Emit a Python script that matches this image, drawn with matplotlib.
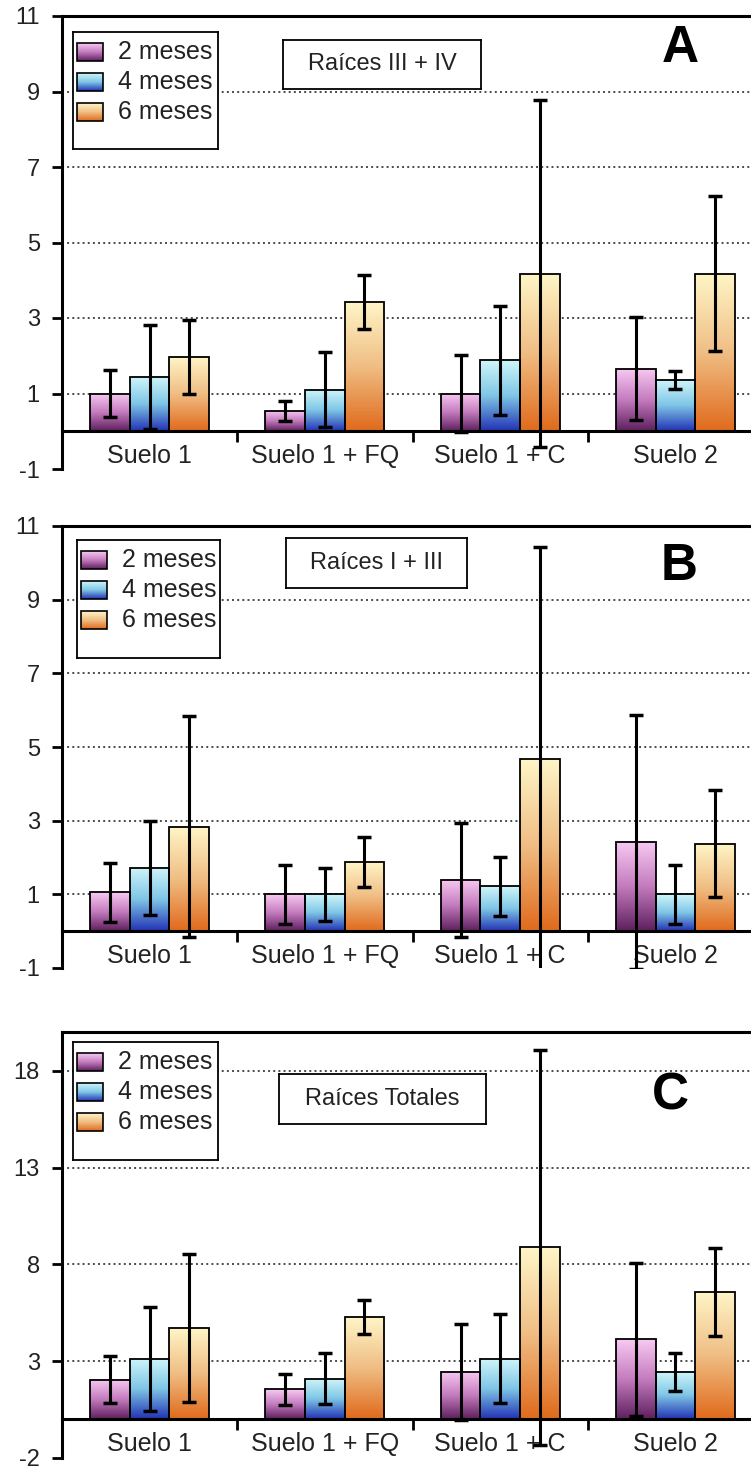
import numpy as np
import matplotlib.pyplot as plt
from matplotlib.colors import LinearSegmentedColormap

plt.rcParams['font.family'] = ['Liberation Sans', 'DejaVu Sans']
plt.rcParams['axes.unicode_minus'] = False

# categorias y series
categorias = ['Suelo 1', 'Suelo 1 + FQ', 'Suelo 1 + C', 'Suelo 2']
meses = ['2 meses', '4 meses', '6 meses']

# Panel A: Raices III + IV
a_2m = [1.0, 0.54, 1.0, 1.66]
a_2m_err = [0.63, 0.27, 1.03, 1.37]
a_4m = [1.44, 1.1, 1.88, 1.36]
a_4m_err = [1.38, 1.0, 1.45, 0.24]
a_6m = [1.97, 3.43, 4.17, 4.17]
a_6m_err = [0.99, 0.72, 4.6, 2.05]

# Panel B: Raices I + III
b_2m = [1.05, 1.0, 1.4, 2.42]
b_2m_err = [0.8, 0.8, 1.55, 3.45]
b_4m = [1.72, 1.0, 1.22, 1.0]
b_4m_err = [1.27, 0.72, 0.8, 0.8]
b_6m = [2.83, 1.88, 4.68, 2.37]
b_6m_err = [3.0, 0.67, 5.75, 1.45]

# Panel C: Raices totales
c_2m = [2.05, 1.54, 2.44, 4.12]
c_2m_err = [1.2, 0.8, 2.48, 3.97]
c_4m = [3.12, 2.1, 3.12, 2.44]
c_4m_err = [2.7, 1.3, 2.3, 1.0]
c_6m = [4.71, 5.29, 8.88, 6.57]
c_6m_err = [3.8, 0.87, 10.2, 2.25]

# degradados (abajo -> arriba)
cmaps = [
    LinearSegmentedColormap.from_list('m2', ['#5E1F5E', '#C47CBE', '#F8CAF2']),
    LinearSegmentedColormap.from_list('m4', ['#2232B4', '#7FC6E6', '#D0F6FA']),
    LinearSegmentedColormap.from_list('m6', ['#E06A1C', '#F0BE84', '#FFF6C8']),
]
grad = np.linspace(0, 1, 256).reshape(-1, 1)

W, H = 751, 1471


def px_rect(l, t, r, b):
    return [l / W, 1 - b / H, (r - l) / W, (b - t) / H]


paneles = [
    dict(series=(a_2m, a_4m, a_6m), errs=(a_2m_err, a_4m_err, a_6m_err),
         ylim=(-1, 11), yticks=list(range(-1, 12, 2)), box=(62, 16, 763, 469),
         titulo='Raíces III + IV', tbox=(283, 40, 481, 89), letra='A', lpos=(680, 48),
         leg=(73, 32, 218, 149)),
    dict(series=(b_2m, b_4m, b_6m), errs=(b_2m_err, b_4m_err, b_6m_err),
         ylim=(-1, 11), yticks=list(range(-1, 12, 2)), box=(62, 526, 763, 968),
         titulo='Raíces I + III', tbox=(286, 538, 467, 588), letra='B', lpos=(679, 567),
         leg=(77, 540, 220, 658)),
    dict(series=(c_2m, c_4m, c_6m), errs=(c_2m_err, c_4m_err, c_6m_err),
         ylim=(-2, 20), yticks=[-2, 3, 8, 13, 18], box=(62, 1032, 763, 1458),
         titulo='Raíces Totales', tbox=(279, 1074, 486, 1124), letra='C', lpos=(670, 1096),
         leg=(73, 1042, 218, 1160)),
]

fig = plt.figure(figsize=(7.51, 14.71), dpi=100)
x = np.arange(len(categorias))
ancho = 0.226

for p in paneles:
    ax = fig.add_axes(px_rect(*p['box']))
    for i, (vals, err) in enumerate(zip(p['series'], p['errs'])):
        pos = x + (i - 1) * ancho
        bars = ax.bar(pos, vals, ancho, fill=False, edgecolor='black', linewidth=1.3, zorder=3)
        for b in bars:
            ax.imshow(grad, cmap=cmaps[i], origin='lower', aspect='auto', interpolation='bilinear',
                      extent=[b.get_x(), b.get_x() + b.get_width(), 0, b.get_height()], zorder=2)
        ax.errorbar(pos, vals, yerr=err, fmt='none', ecolor='black', elinewidth=2.2,
                    capsize=5, capthick=2.5, zorder=4)

    ymin, ymax = p['ylim']
    for t in p['yticks']:
        if 0 < t < ymax:
            ax.axhline(t, color='#4a4a4a', linestyle=':', linewidth=1.4, zorder=1)

    ax.set_xlim(-0.5, 3.5)
    ax.set_ylim(ymin, ymax)
    ax.set_yticks(p['yticks'])
    ax.set_xticks(x)
    ax.set_xticklabels(categorias)
    ax.set_xticks([0.5, 1.5, 2.5], minor=True)
    ax.tick_params(axis='x', which='major', length=0, pad=9, labelsize=18, labelcolor='#222222')
    ax.tick_params(axis='x', which='minor', length=8, width=2, direction='out')
    ax.tick_params(axis='y', length=7, width=2, pad=9, labelsize=17, labelcolor='#222222')
    ax.spines['bottom'].set_position(('data', 0))
    for s in ['left', 'bottom', 'top', 'right']:
        ax.spines[s].set_linewidth(2.2)

    # leyenda
    l, t, r, b = p['leg']
    lax = fig.add_axes(px_rect(l, t, r, b))
    lax.set_xticks([])
    lax.set_yticks([])
    for s in lax.spines.values():
        s.set_linewidth(1.3)
    for i, nombre in enumerate(meses):
        yc = 20 + 30 * i
        lax.imshow(grad, cmap=cmaps[i], origin='lower', aspect='auto', interpolation='bilinear',
                   extent=[4, 30, yc + 9, yc - 9], zorder=2)
        lax.add_patch(plt.Rectangle((4, yc - 9), 26, 18, fill=False, edgecolor='black', linewidth=1.2, zorder=3))
        lax.text(45, yc, nombre, fontsize=18, va='center', ha='left', color='#222222')
    lax.set_xlim(0, r - l)
    lax.set_ylim(b - t, 0)

    # recuadro del titulo
    l, t, r, b = p['tbox']
    tax = fig.add_axes(px_rect(l, t, r, b))
    tax.set_xticks([])
    tax.set_yticks([])
    for s in tax.spines.values():
        s.set_linewidth(1.3)
    tax.text(0.5, 0.5, p['titulo'], fontsize=17, ha='center', va='center', color='#222222',
             transform=tax.transAxes)

    fig.text(p['lpos'][0] / W, 1 - p['lpos'][1] / H, p['letra'], fontsize=37, fontweight='bold',
             ha='center', va='center')

fig.savefig('out.png', dpi=100)
